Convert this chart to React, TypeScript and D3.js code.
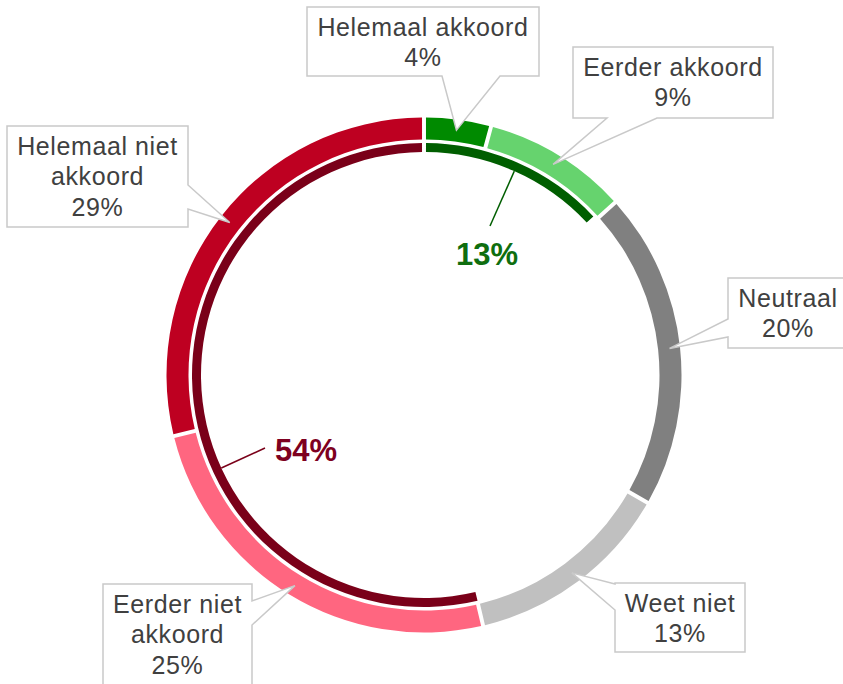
import * as d3 from "d3";

const CATEGORIES = [
  "Helemaal akkoord",
  "Eerder akkoord",
  "Neutraal",
  "Weet niet",
  "Eerder niet akkoord",
  "Helemaal niet akkoord",
];
const VALUES = [4, 9, 20, 13, 25, 29];
const COLOURS = ["#008A00", "#66D36E", "#808080", "#C0C0C0", "#FF6680", "#BE0021"];

// inner ring: total agree / (gap) / total disagree
const SUMMARY_VALUES = [13, 33, 54];
const SUMMARY_COLOURS = ["#005E00", null, "#7A0019"];
const SUMMARY_TEXT = ["#0F6E0F", null, "#7E0020"];

const W = 843;
const H = 684;
const CX = 424;
const CY = 375;
const FONT = "'Liberation Sans', Arial, sans-serif";

// callout boxes, in the same order as CATEGORIES
type Side = "bottom" | "left" | "right";
const CALLOUTS: { x0: number; y0: number; x1: number; y1: number; side: Side; b0: number; b1: number; lines: string[] }[] = [
  { x0: 307, y0: 7, x1: 539, y1: 76, side: "bottom", b0: 442, b1: 500, lines: ["Helemaal akkoord"] },
  { x0: 573, y0: 47, x1: 773, y1: 118, side: "bottom", b0: 607, b1: 657, lines: ["Eerder akkoord"] },
  { x0: 728, y0: 278, x1: 850, y1: 348, side: "left", b0: 319, b1: 337, lines: ["Neutraal"] },
  { x0: 615, y0: 583, x1: 745, y1: 652, side: "left", b0: 584, b1: 610, lines: ["Weet niet"] },
  { x0: 103, y0: 584, x1: 252, y1: 700, side: "right", b0: 601, b1: 625, lines: ["Eerder niet", "akkoord"] },
  { x0: 7, y0: 126, x1: 188, y1: 227, side: "right", b0: 185, b1: 209, lines: ["Helemaal niet", "akkoord"] },
];

// where the inner-ring leader lines end and the bold labels sit
const SUMMARY_LAYOUT = [
  { end: [490, 226], tx: 487, ty: 265 },
  null,
  { end: [265, 448], tx: 306, ty: 461 },
];

function calloutPath(c: (typeof CALLOUTS)[number], tip: [number, number]) {
  const { x0, y0, x1, y1, side, b0, b1 } = c;
  const p: [number, number][] = [[x0, y0], [x1, y0]];
  if (side === "right") p.push([x1, b0], tip, [x1, b1]);
  p.push([x1, y1]);
  if (side === "bottom") p.push([b1, y1], tip, [b0, y1]);
  p.push([x0, y1]);
  if (side === "left") p.push([x0, b1], tip, [x0, b0]);
  return "M" + p.map((q) => q.join(",")).join("L") + "Z";
}

export default function App() {
  const pie = d3
    .pie<number>()
    .sort(null)
    .value((d) => d)
    .padAngle(0.016);

  const outerArc = d3
    .arc<d3.PieArcDatum<number>>()
    .innerRadius(235.5)
    .outerRadius(257.5)
    .padRadius(247);
  const innerArc = d3
    .arc<d3.PieArcDatum<number>>()
    .innerRadius(223)
    .outerRadius(232)
    .padRadius(247);

  const outer = pie(VALUES);
  const inner = pie(SUMMARY_VALUES);

  const tipOf = (d: d3.PieArcDatum<number>): [number, number] => {
    const a = (d.startAngle + d.endAngle) / 2;
    return [CX + 247 * Math.sin(a), CY - 247 * Math.cos(a)];
  };

  const fmt = d3.format(".0f");

  return (
    <svg
      width={W}
      height={H}
      style={{ position: "absolute", left: 0, top: 0, display: "block", background: "#fff" }}
    >
      <g transform={`translate(${CX},${CY})`}>
        {outer.map((d, i) => (
          <path key={CATEGORIES[i]} d={outerArc(d) ?? ""} fill={COLOURS[i]} />
        ))}
        {inner.map((d, i) =>
          SUMMARY_COLOURS[i] ? (
            <path key={`in-${i}`} d={innerArc(d) ?? ""} fill={SUMMARY_COLOURS[i]!} />
          ) : null,
        )}
      </g>

      {inner.map((d, i) => {
        const lay = SUMMARY_LAYOUT[i];
        if (!lay) return null;
        const [ex, ey] = lay.end;
        const dx = ex - CX;
        const dy = ey - CY;
        const len = Math.hypot(dx, dy);
        const sx = CX + (223 * dx) / len;
        const sy = CY + (223 * dy) / len;
        return (
          <g key={`sum-${i}`}>
            <line x1={sx} y1={sy} x2={ex} y2={ey} stroke={SUMMARY_COLOURS[i]!} strokeWidth={1.5} />
            <text
              x={lay.tx}
              y={lay.ty}
              textAnchor="middle"
              fill={SUMMARY_TEXT[i]!}
              style={{ font: `bold 31px ${FONT}` }}
            >
              {fmt(d.data)}%
            </text>
          </g>
        );
      })}

      {CALLOUTS.map((c, i) => {
        const tip = tipOf(outer[i]);
        const cx = (c.x0 + c.x1) / 2 + (c.side === "left" && c.x1 > W ? -1 : 0);
        const lines = [...c.lines, `${fmt(VALUES[i])}%`];
        return (
          <g key={`call-${i}`}>
            <path d={calloutPath(c, tip)} fill="#fff" stroke="#C9C9C9" strokeWidth={1.5} />
            {lines.map((t, j) => (
              <text
                key={j}
                x={cx}
                y={c.y0 + 29 + j * 30.3}
                textAnchor="middle"
                fill="#404040"
                style={{ font: `25px ${FONT}`, letterSpacing: "0.6px" }}
              >
                {t}
              </text>
            ))}
          </g>
        );
      })}
    </svg>
  );
}
